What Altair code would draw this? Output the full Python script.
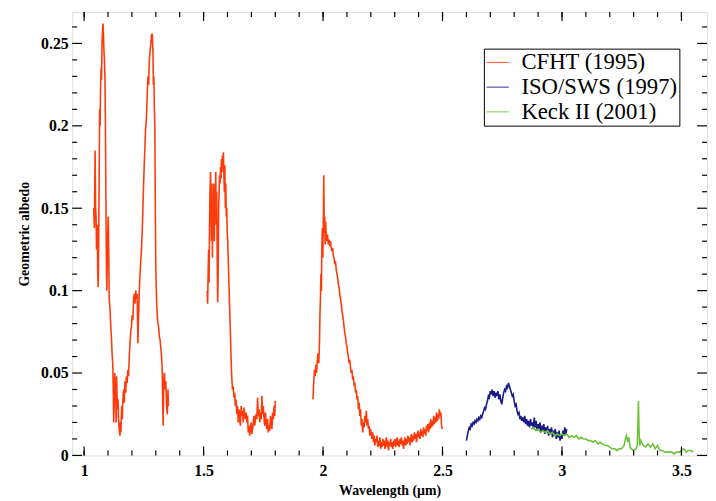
import altair as alt
import pandas as pd

# ---------------- data ----------------
cfht1_w = [1.040, 1.043, 1.046, 1.048, 1.050, 1.052, 1.055, 1.057, 1.059, 1.061, 1.063, 1.065, 1.067, 1.069,
           1.071, 1.073, 1.075, 1.077, 1.079, 1.081, 1.083, 1.085, 1.087, 1.089, 1.091, 1.093, 1.095, 1.097,
           1.099, 1.101, 1.103, 1.105, 1.108, 1.111, 1.114, 1.117, 1.120, 1.122, 1.124, 1.126, 1.128, 1.130,
           1.132, 1.134, 1.136, 1.138, 1.140, 1.142, 1.144, 1.146, 1.148, 1.150, 1.152, 1.154, 1.156, 1.158,
           1.160, 1.162, 1.165, 1.168, 1.171, 1.174, 1.177, 1.180, 1.183, 1.186, 1.189, 1.192, 1.195, 1.198,
           1.201, 1.204, 1.207, 1.210, 1.213, 1.216, 1.219, 1.222, 1.225, 1.228, 1.231, 1.234, 1.237, 1.240,
           1.243, 1.246, 1.249, 1.252, 1.255, 1.258, 1.261, 1.264, 1.267, 1.270, 1.273, 1.276, 1.279, 1.282,
           1.285, 1.288, 1.290, 1.292, 1.294, 1.296, 1.298, 1.300, 1.303, 1.306, 1.309, 1.312, 1.315, 1.318,
           1.321, 1.324, 1.327, 1.329, 1.331, 1.333, 1.336, 1.339, 1.342, 1.345, 1.348, 1.351, 1.353]
cfht1_a = [0.150, 0.138, 0.185, 0.150, 0.145, 0.125, 0.140, 0.110, 0.102, 0.130, 0.170, 0.210, 0.200, 0.225,
           0.235, 0.228, 0.250, 0.258, 0.262, 0.255, 0.245, 0.240, 0.230, 0.205, 0.160, 0.120, 0.100, 0.118,
           0.135, 0.145, 0.125, 0.095, 0.090, 0.080, 0.072, 0.062, 0.055, 0.040, 0.020, 0.030, 0.050, 0.040,
           0.044, 0.020, 0.048, 0.035, 0.028, 0.034, 0.022, 0.018, 0.014, 0.012, 0.020, 0.014, 0.025, 0.030,
           0.022, 0.033, 0.040, 0.032, 0.045, 0.038, 0.048, 0.044, 0.052, 0.048, 0.060, 0.068, 0.075, 0.078,
           0.085, 0.082, 0.095, 0.098, 0.092, 0.100, 0.095, 0.098, 0.068, 0.085, 0.100, 0.110, 0.118, 0.125,
           0.135, 0.150, 0.165, 0.178, 0.190, 0.200, 0.205, 0.218, 0.230, 0.225, 0.240, 0.245, 0.250, 0.255,
           0.256, 0.245, 0.225, 0.230, 0.210, 0.200, 0.150, 0.115, 0.095, 0.085, 0.080, 0.078, 0.072, 0.070,
           0.065, 0.060, 0.052, 0.030, 0.018, 0.045, 0.050, 0.040, 0.045, 0.030, 0.025, 0.040, 0.030]

cfht2_w = [1.515, 1.517, 1.519, 1.521, 1.523, 1.525, 1.527, 1.529, 1.531, 1.533, 1.535, 1.537, 1.539, 1.541,
           1.543, 1.545, 1.547, 1.549, 1.551, 1.553, 1.555, 1.557, 1.559, 1.561, 1.563, 1.565, 1.567, 1.569,
           1.571, 1.573, 1.575, 1.577, 1.579, 1.581, 1.583, 1.585, 1.587, 1.589, 1.591, 1.593, 1.595, 1.597,
           1.599, 1.601, 1.603, 1.605, 1.607, 1.609, 1.611, 1.613, 1.615, 1.617, 1.619, 1.621, 1.624, 1.627,
           1.630, 1.633, 1.636, 1.639, 1.642, 1.645, 1.648, 1.651, 1.654, 1.657, 1.660, 1.663, 1.666, 1.669,
           1.672, 1.675, 1.678, 1.681, 1.684, 1.687, 1.690, 1.693, 1.696, 1.699, 1.702, 1.705, 1.708, 1.711,
           1.714, 1.717, 1.720, 1.723, 1.726, 1.729, 1.732, 1.735, 1.738, 1.741, 1.744, 1.747, 1.750, 1.753,
           1.756, 1.759, 1.762, 1.765, 1.768, 1.771, 1.774, 1.777, 1.780, 1.783, 1.786, 1.789, 1.792, 1.795,
           1.798, 1.800]
cfht2_a = [0.100, 0.092, 0.110, 0.125, 0.105, 0.140, 0.160, 0.172, 0.150, 0.130, 0.165, 0.120, 0.155, 0.140,
           0.165, 0.130, 0.160, 0.150, 0.172, 0.140, 0.160, 0.120, 0.093, 0.110, 0.150, 0.160, 0.170, 0.165,
           0.175, 0.168, 0.180, 0.172, 0.182, 0.175, 0.184, 0.170, 0.160, 0.176, 0.150, 0.165, 0.145, 0.150,
           0.135, 0.130, 0.120, 0.110, 0.100, 0.090, 0.080, 0.070, 0.060, 0.050, 0.045, 0.040, 0.042, 0.035,
           0.038, 0.030, 0.034, 0.025, 0.030, 0.020, 0.028, 0.022, 0.018, 0.030, 0.024, 0.027, 0.020, 0.029,
           0.024, 0.022, 0.026, 0.020, 0.024, 0.014, 0.018, 0.012, 0.016, 0.020, 0.013, 0.016, 0.020, 0.024,
           0.018, 0.022, 0.025, 0.022, 0.035, 0.024, 0.028, 0.020, 0.026, 0.022, 0.036, 0.025, 0.030, 0.022,
           0.018, 0.026, 0.020, 0.016, 0.022, 0.014, 0.018, 0.015, 0.024, 0.020, 0.016, 0.026, 0.022, 0.030,
           0.024, 0.033]

cfht3_w = [1.958, 1.961, 1.964, 1.967, 1.970, 1.973, 1.976, 1.979, 1.982, 1.985, 1.987, 1.989, 1.991, 1.993,
           1.995, 1.997, 1.999, 2.001, 2.003, 2.005, 2.007, 2.009, 2.011, 2.013, 2.016, 2.019, 2.022, 2.025,
           2.028, 2.031, 2.034, 2.037, 2.040, 2.043, 2.046, 2.049, 2.052, 2.055, 2.058, 2.061, 2.064, 2.067,
           2.070, 2.073, 2.076, 2.079, 2.082, 2.085, 2.088, 2.091, 2.094, 2.097, 2.100, 2.103, 2.106, 2.109,
           2.112, 2.115, 2.118, 2.121, 2.124, 2.127, 2.130, 2.133, 2.136, 2.139, 2.142, 2.145, 2.148, 2.151,
           2.154, 2.157, 2.160, 2.163, 2.166, 2.169, 2.172, 2.175, 2.178, 2.181, 2.184, 2.187, 2.190, 2.193,
           2.196, 2.199, 2.202, 2.205, 2.208, 2.211, 2.214, 2.217, 2.220, 2.223, 2.226, 2.229, 2.232, 2.235,
           2.238, 2.241, 2.244, 2.247, 2.250, 2.253, 2.256, 2.259, 2.262, 2.265, 2.268, 2.271, 2.274, 2.277,
           2.280, 2.283, 2.286, 2.289, 2.292, 2.295, 2.298, 2.301, 2.304, 2.307, 2.310, 2.313, 2.316, 2.319,
           2.322, 2.325, 2.328, 2.331, 2.334, 2.337, 2.340, 2.343, 2.346, 2.349, 2.352, 2.355, 2.358, 2.361,
           2.364, 2.367, 2.370, 2.373, 2.376, 2.379, 2.382, 2.385, 2.388, 2.391, 2.394, 2.397, 2.400, 2.403,
           2.406, 2.409, 2.412, 2.415, 2.418, 2.421, 2.424, 2.427, 2.430, 2.433, 2.436, 2.439, 2.442, 2.445,
           2.448, 2.451, 2.454, 2.457, 2.460, 2.463, 2.466, 2.469, 2.472, 2.475, 2.478, 2.481, 2.484, 2.487,
           2.490, 2.493, 2.496, 2.499]
cfht3_a = [0.034, 0.045, 0.052, 0.048, 0.055, 0.050, 0.058, 0.062, 0.056, 0.068, 0.085, 0.095, 0.110, 0.100,
           0.125, 0.138, 0.120, 0.140, 0.170, 0.135, 0.145, 0.128, 0.142, 0.133, 0.130, 0.134, 0.128, 0.131,
           0.127, 0.130, 0.126, 0.124, 0.126, 0.121, 0.120, 0.116, 0.118, 0.113, 0.110, 0.108, 0.104, 0.102,
           0.098, 0.095, 0.092, 0.088, 0.085, 0.082, 0.078, 0.074, 0.072, 0.068, 0.066, 0.062, 0.060, 0.056,
           0.058, 0.053, 0.050, 0.052, 0.046, 0.048, 0.042, 0.044, 0.038, 0.040, 0.034, 0.036, 0.028, 0.032,
           0.024, 0.028, 0.018, 0.022, 0.014, 0.020, 0.017, 0.024, 0.020, 0.027, 0.018, 0.022, 0.016, 0.018,
           0.012, 0.016, 0.013, 0.010, 0.014, 0.008, 0.012, 0.006, 0.010, 0.008, 0.012, 0.005, 0.009, 0.006,
           0.011, 0.004, 0.008, 0.005, 0.010, 0.006, 0.009, 0.004, 0.008, 0.011, 0.005, 0.009, 0.003, 0.008,
           0.006, 0.010, 0.005, 0.008, 0.004, 0.009, 0.006, 0.010, 0.005, 0.008, 0.011, 0.006, 0.009, 0.005,
           0.010, 0.007, 0.011, 0.006, 0.009, 0.004, 0.008, 0.011, 0.006, 0.010, 0.007, 0.012, 0.008, 0.011,
           0.006, 0.010, 0.013, 0.008, 0.012, 0.009, 0.014, 0.010, 0.013, 0.008, 0.012, 0.015, 0.011, 0.014,
           0.010, 0.016, 0.012, 0.015, 0.011, 0.017, 0.013, 0.016, 0.012, 0.018, 0.015, 0.019, 0.014, 0.020,
           0.016, 0.022, 0.017, 0.021, 0.018, 0.024, 0.019, 0.023, 0.020, 0.026, 0.021, 0.025, 0.022, 0.028,
           0.024, 0.026, 0.018, 0.016]

iso_w = [2.600, 2.604, 2.608, 2.612, 2.616, 2.620, 2.624, 2.628, 2.632, 2.636, 2.640, 2.644, 2.648, 2.652,
         2.656, 2.660, 2.664, 2.668, 2.672, 2.676, 2.680, 2.684, 2.688, 2.692, 2.696, 2.700, 2.704, 2.708,
         2.712, 2.716, 2.720, 2.724, 2.728, 2.732, 2.736, 2.740, 2.744, 2.748, 2.752, 2.756, 2.760, 2.764,
         2.768, 2.772, 2.776, 2.780, 2.784, 2.788, 2.792, 2.796, 2.800, 2.804, 2.808, 2.812, 2.816, 2.820,
         2.824, 2.828, 2.832, 2.836, 2.840, 2.844, 2.848, 2.852, 2.856, 2.860, 2.864, 2.868, 2.872, 2.876,
         2.880, 2.884, 2.888, 2.892, 2.896, 2.900, 2.904, 2.908, 2.912, 2.916, 2.920, 2.924, 2.928, 2.932,
         2.936, 2.940, 2.944, 2.948, 2.952, 2.956, 2.960, 2.964, 2.968, 2.972, 2.976, 2.980, 2.984, 2.988,
         2.992, 2.996, 3.000, 3.004, 3.008, 3.012, 3.016, 3.020]
iso_a = [0.009, 0.012, 0.015, 0.017, 0.016, 0.019, 0.018, 0.020, 0.019, 0.021, 0.020, 0.022, 0.021, 0.023,
         0.022, 0.024, 0.023, 0.025, 0.027, 0.029, 0.028, 0.031, 0.033, 0.036, 0.035, 0.039, 0.037, 0.040,
         0.036, 0.039, 0.035, 0.038, 0.036, 0.039, 0.034, 0.037, 0.033, 0.031, 0.035, 0.038, 0.040, 0.039,
         0.042, 0.041, 0.044, 0.042, 0.040, 0.038, 0.036, 0.037, 0.033, 0.030, 0.031, 0.027, 0.025, 0.026,
         0.022, 0.024, 0.021, 0.023, 0.020, 0.024, 0.019, 0.022, 0.018, 0.021, 0.017, 0.022, 0.018, 0.020,
         0.016, 0.023, 0.017, 0.021, 0.015, 0.019, 0.016, 0.020, 0.014, 0.018, 0.015, 0.019, 0.013, 0.017,
         0.014, 0.018, 0.012, 0.016, 0.013, 0.017, 0.011, 0.015, 0.012, 0.016, 0.010, 0.014, 0.011, 0.015,
         0.009, 0.013, 0.010, 0.015, 0.012, 0.017, 0.013, 0.016]

keck_w = [2.870, 2.880, 2.890, 2.900, 2.910, 2.920, 2.930, 2.940, 2.950, 2.960, 2.970, 2.980, 2.990, 3.000,
          3.010, 3.020, 3.030, 3.040, 3.050, 3.060, 3.070, 3.080, 3.090, 3.100, 3.110, 3.120, 3.130, 3.140,
          3.150, 3.160, 3.170, 3.180, 3.190, 3.200, 3.210, 3.220, 3.230, 3.240, 3.250, 3.260, 3.265, 3.270,
          3.275, 3.280, 3.285, 3.290, 3.300, 3.310, 3.315, 3.318, 3.320, 3.322, 3.325, 3.330, 3.340, 3.350,
          3.360, 3.370, 3.380, 3.390, 3.400, 3.410, 3.420, 3.430, 3.440, 3.450, 3.460, 3.470, 3.480, 3.490,
          3.500, 3.510, 3.520, 3.530, 3.540, 3.550]
keck_a = [0.016, 0.017, 0.015, 0.016, 0.014, 0.015, 0.014, 0.015, 0.013, 0.014, 0.012, 0.013, 0.012, 0.013,
          0.012, 0.013, 0.011, 0.012, 0.011, 0.012, 0.010, 0.011, 0.010, 0.010, 0.009, 0.009, 0.008, 0.009,
          0.007, 0.008, 0.007, 0.006, 0.006, 0.005, 0.004, 0.004, 0.003, 0.004, 0.004, 0.006, 0.010, 0.012,
          0.008, 0.011, 0.005, 0.004, 0.003, 0.004, 0.006, 0.020, 0.033, 0.018, 0.006, 0.009, 0.006, 0.005,
          0.007, 0.005, 0.007, 0.004, 0.006, 0.003, 0.003, 0.002, 0.002, 0.002, 0.002, 0.001, 0.002, 0.002,
          0.003, 0.004, 0.002, 0.003, 0.003, 0.002]

series_names = ["CFHT (1995)", "ISO/SWS (1997)", "Keck II (2001)"]
series_colors = ["#ff3a0a", "#1a1a8c", "#6cc23a"]

x_major = [1, 1.5, 2, 2.5, 3, 3.5]
x_minor = [1.0, 1.1, 1.2, 1.3, 1.4, 1.5, 1.6, 1.7, 1.8, 1.9, 2.0, 2.1, 2.2, 2.3, 2.4, 2.5,
           2.6, 2.7, 2.8, 2.9, 3.0, 3.1, 3.2, 3.3, 3.4, 3.5]
y_major = [0, 0.05, 0.1, 0.15, 0.2, 0.25]
y_minor = [0.01, 0.02, 0.03, 0.04, 0.06, 0.07, 0.08, 0.09, 0.11, 0.12, 0.13, 0.14,
           0.16, 0.17, 0.18, 0.19, 0.21, 0.22, 0.23, 0.24, 0.26]

# ---------------- build table ----------------
rows = []
for seg, (ws, as_, name) in enumerate([(cfht1_w, cfht1_a, series_names[0]),
                                       (cfht2_w, cfht2_a, series_names[0]),
                                       (cfht3_w, cfht3_a, series_names[0]),
                                       (iso_w, iso_a, series_names[1]),
                                       (keck_w, keck_a, series_names[2])]):
    for w, a in zip(ws, as_):
        rows.append({"w": w, "a": a, "series": name, "seg": seg})
df = pd.DataFrame(rows)

W, H = 643, 449
FONT = "Liberation Serif"
xscale = alt.Scale(domain=[0.95, 3.607], nice=False, zero=False)
yscale = alt.Scale(domain=[0, 0.269], nice=False, zero=False)

axis_style = dict(labelFont=FONT, labelFontSize=16, labelFontWeight="bold", labelColor="black",
                  titleFont=FONT, titleFontSize=14, titleFontWeight="bold", titleColor="black",
                  ticks=False, domain=False, grid=False, format="~g")

lines = alt.Chart(df).mark_line(strokeWidth=1.6, clip=True).encode(
    x=alt.X("w:Q", scale=xscale,
            axis=alt.Axis(title="Wavelength (µm)", values=x_major, labelPadding=7, titlePadding=6,
                          **axis_style)),
    y=alt.Y("a:Q", scale=yscale,
            axis=alt.Axis(title="Geometric albedo", values=y_major, labelPadding=4, titlePadding=9,
                          **axis_style)),
    color=alt.Color("series:N",
                    scale=alt.Scale(domain=series_names, range=series_colors),
                    legend=alt.Legend(title=None, orient="none", legendX=417, legendY=37,
                                      fillColor="white", strokeColor="black", padding=2,
                                      symbolType="stroke", symbolSize=500, symbolStrokeWidth=1.2,
                                      symbolOpacity=0.75, labelFont=FONT, labelFontSize=23,
                                      labelColor="black", labelOffset=12, rowPadding=1,
                                      labelLimit=300)),
    detail="seg:N",
)

xmaj = pd.DataFrame({"v": x_major})
xmin = pd.DataFrame({"v": x_minor})
ymaj = pd.DataFrame({"v": y_major})
ymin = pd.DataFrame({"v": y_minor})

def xticks(data, length):
    base = alt.Chart(data).mark_rule(color="black", strokeWidth=1.2)
    return base.encode(x=alt.X("v:Q", scale=xscale), y=alt.value(H), y2=alt.value(H - length)) + \
           base.encode(x=alt.X("v:Q", scale=xscale), y=alt.value(0), y2=alt.value(length))

def yticks(data, length):
    base = alt.Chart(data).mark_rule(color="black", strokeWidth=1.2)
    return base.encode(y=alt.Y("v:Q", scale=yscale), x=alt.value(0), x2=alt.value(length)) + \
           base.encode(y=alt.Y("v:Q", scale=yscale), x=alt.value(W), x2=alt.value(W - length))

chart = alt.layer(
    lines, xticks(xmaj, 9), xticks(xmin, 5), yticks(ymaj, 10), yticks(ymin, 5)
).properties(
    width=W, height=H, padding={"left": 10, "top": 0, "right": 0, "bottom": 0}
).configure_view(
    stroke="black", strokeWidth=1.5
).configure(background="white", font=FONT)

chart.save("out.html", embed_options={"renderer": "svg", "actions": False})
